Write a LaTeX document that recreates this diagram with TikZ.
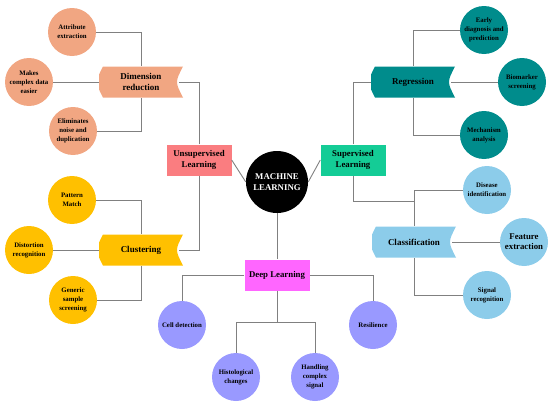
\documentclass[tikz,border=0pt]{standalone}
\usepackage{fontspec}
\setmainfont{Liberation Serif}

\definecolor{dimcol}{RGB}{241,166,130}
\definecolor{clucol}{RGB}{255,192,0}
\definecolor{regcol}{RGB}{0,140,140}
\definecolor{clscol}{RGB}{140,204,234}
\definecolor{dlcol}{RGB}{153,153,255}
\definecolor{unsupcol}{RGB}{250,125,128}
\definecolor{supcol}{RGB}{20,204,150}
\definecolor{deepcol}{RGB}{255,102,255}
\definecolor{linkgray}{RGB}{128,128,128}

\tikzset{
  leaf/.style={circle,fill=#1,minimum size=48pt,inner sep=0pt,align=center,
    font=\fontsize{6.8}{8.8}\selectfont\bfseries},
  band/.style={minimum width=84pt,minimum height=31pt,inner sep=0pt,align=center,
    font=\fontsize{9}{10.8}\selectfont\bfseries,
    path picture={\fill[#1] ([xshift=4pt]path picture bounding box.north west)
      -- (path picture bounding box.north east)
      .. controls ([xshift=-8pt]path picture bounding box.east) .. (path picture bounding box.south east)
      -- ([xshift=4pt]path picture bounding box.south west)
      .. controls ([xshift=-4pt]path picture bounding box.west) .. cycle;}},
  branch/.style={fill=#1,minimum width=65pt,minimum height=31pt,inner sep=0pt,align=center,
    font=\fontsize{8.8}{10.5}\selectfont\bfseries},
  link/.style={draw=linkgray,line width=0.9pt}
}

\begin{document}
\begin{tikzpicture}[x=1pt,y=-1pt]
  \useasboundingbox (0,0) rectangle (550,407);

  % centre and the three branches
  \node[circle,fill=black,text=white,minimum size=62pt,inner sep=0pt,align=center,
    font=\fontsize{8.8}{10.5}\selectfont\bfseries] (ml) at (277,182) {MACHINE\\LEARNING};
  \node[branch=unsupcol] (unsup) at (199,160) {Unsupervised\\Learning};
  \node[branch=supcol] (sup) at (353,160) {Supervised\\Learning};
  \node[branch=deepcol] (deep) at (277,275) {Deep Learning};

  \node[band=dimcol] (dim) at (141,82) {Dimension\\reduction};
  \node[band=clucol] (clust) at (141,250) {Clustering};
  \node[band=regcol] (reg) at (413,82) {Regression};
  \node[band=clscol] (cls) at (414,242) {Classification};

  % leaves
  \node[leaf=dimcol] (attr) at (72,32) {Attribute\\extraction};
  \node[leaf=dimcol] (easier) at (29,82) {Makes\\complex data\\easier};
  \node[leaf=dimcol] (noise) at (73,131) {Eliminates\\noise and\\duplication};

  \node[leaf=clucol] (pattern) at (72,200) {Pattern\\Match};
  \node[leaf=clucol] (distort) at (29,250) {Distortion\\recognition};
  \node[leaf=clucol] (generic) at (73,300) {Generic\\sample\\screening};

  \node[leaf=dlcol] (cell) at (182,325) {Cell detection};
  \node[leaf=dlcol] (histo) at (236,377) {Histological\\changes};
  \node[leaf=dlcol] (handle) at (315,377) {Handling\\complex\\signal};
  \node[leaf=dlcol] (resil) at (373,325) {Resilience};

  \node[leaf=regcol] (early) at (484,30) {Early\\diagnosis and\\prediction};
  \node[leaf=regcol] (bio) at (522,82) {Biomarker\\screening};
  \node[leaf=regcol] (mech) at (484,135) {Mechanism\\analysis};

  \node[leaf=clscol] (disease) at (487,190) {Disease\\identification};
  \node[leaf=clscol,font=\fontsize{8.8}{10.2}\selectfont\bfseries] (feat) at (524,242) {Feature\\extraction};
  \node[leaf=clscol] (signal) at (487,295) {Signal\\recognition};

  \coordinate (dlsplit) at (277,322);
  \coordinate (supjoin) at (414,201);

  % connectors
  \draw[link] (unsup.east) -- (ml.west);
  \draw[link] (sup.west) -- (ml.east);
  \draw[link] (ml) -- (deep);

  \draw[link,shorten >=-4pt] (unsup) |- (dim);
  \draw[link,shorten >=-4pt] (unsup) |- (clust);
  \draw[link] (sup) |- (reg);
  \draw[link] (sup) |- (supjoin);

  \draw[link] (attr) -| (dim);
  \draw[link] (easier) -- (dim);
  \draw[link] (noise) -| (dim);

  \draw[link] (pattern) -| (clust);
  \draw[link] (distort) -- (clust);
  \draw[link] (generic) -| (clust);

  \draw[link] (deep) -| (cell);
  \draw[link] (deep) -| (resil);
  \draw[link] (deep) -- (dlsplit) -| (histo);
  \draw[link] (dlsplit) -| (handle);

  \draw[link] (early) -| (reg);
  \draw[link,shorten <=-4pt] (reg) -- (bio);
  \draw[link] (mech) -| (reg);

  \draw[link] (disease) -| (cls);
  \draw[link,shorten <=-4pt] (cls) -- (feat);
  \draw[link] (signal) -| (cls);
\end{tikzpicture}
\end{document}
